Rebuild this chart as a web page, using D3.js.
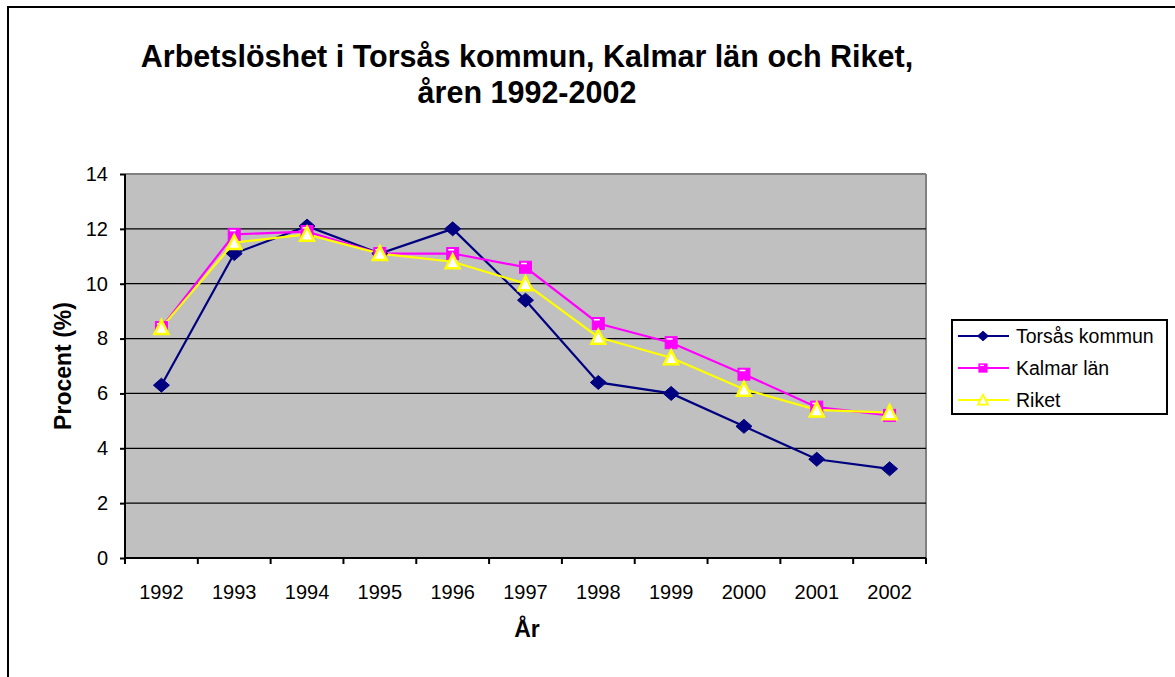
<!DOCTYPE html>
<html>
<head>
<meta charset="utf-8">
<script src="https://cdn.jsdelivr.net/npm/d3@7"></script>
<style>
  body { margin: 0; background: #fff; }
  svg { display: block; font-family: "Liberation Sans", Arial, sans-serif; }
</style>
</head>
<body>
<div id="chart"></div>
<script>
// Datos
const years = ['1992','1993','1994','1995','1996','1997','1998','1999','2000','2001','2002'];
const torsas = [6.3, 11.1, 12.1, 11.1, 12.0, 9.4, 6.4, 6.0, 4.8, 3.6, 3.25];
const kalmar = [8.4, 11.8, 11.9, 11.1, 11.1, 10.6, 8.55, 7.85, 6.7, 5.5, 5.2];
const riket = [8.4, 11.5, 11.8, 11.1, 10.8, 10.0, 8.05, 7.3, 6.15, 5.4, 5.3];
const yTicks = [0, 2, 4, 6, 8, 10, 12, 14];
const seriesNames = ['Torsås kommun', 'Kalmar län', 'Riket'];

const FONT = '"Liberation Sans", Arial, sans-serif';
const W = 1175, H = 677;
const margin = {top: 174, left: 125, right: 249, bottom: 119};
const width = W - margin.left - margin.right,
      height = H - margin.top - margin.bottom;

let svg = d3.select('#chart').append('svg')
    .attr('width', W).attr('height', H);

// borde exterior
svg.append('rect')
    .attr('x', 8).attr('y', 7)
    .attr('width', W + 10).attr('height', H + 10)
    .attr('fill', 'none').attr('stroke', '#000').attr('stroke-width', 2);

// título
svg.append('text').attr('x', 527).attr('y', 67).attr('text-anchor', 'middle')
    .attr('font-size', 30.5).attr('font-weight', 'bold')
    .text('Arbetslöshet i Torsås kommun, Kalmar län och Riket,');
svg.append('text').attr('x', 527).attr('y', 103).attr('text-anchor', 'middle')
    .attr('font-size', 30.5).attr('font-weight', 'bold')
    .text('åren 1992-2002');

let g = svg.append('g').attr('transform', 'translate(' + margin.left + ',' + margin.top + ')');

let x = d3.scaleBand().domain(years).range([0, width]);
let y = d3.scaleLinear().domain([0, 14]).range([height, 0]);

// fondo del gráfico
g.append('rect').attr('width', width).attr('height', height).attr('fill', '#c0c0c0');
g.append('line').attr('x1', 0).attr('x2', width).attr('y1', 0).attr('y2', 0)
    .attr('stroke', '#808080').attr('stroke-width', 2);
g.append('line').attr('x1', width).attr('x2', width).attr('y1', 0).attr('y2', height)
    .attr('stroke', '#808080').attr('stroke-width', 2);

// líneas de rejilla
g.selectAll('.grid').data(yTicks.filter(d => d > 0 && d < 14)).enter()
    .append('line')
    .attr('x1', 0).attr('x2', width)
    .attr('y1', d => y(d)).attr('y2', d => y(d))
    .attr('stroke', '#000').attr('stroke-width', 1.3);

// eje Y
let yAxis = g.append('g').call(d3.axisLeft(y).tickValues(yTicks).tickSize(5).tickPadding(12).tickFormat(d3.format('d')));
yAxis.select('.domain').attr('stroke-width', 2).attr('d', 'M0,0V' + height);
yAxis.selectAll('.tick line').attr('stroke-width', 2);
yAxis.selectAll('text').attr('font-size', 20).attr('fill', '#000').attr('font-family', FONT);

// eje X
let xAxis = g.append('g').attr('transform', 'translate(0,' + height + ')')
    .call(d3.axisBottom(x).tickSize(0).tickPadding(27));
xAxis.select('.domain').attr('stroke-width', 2).attr('d', 'M0,0H' + width);
xAxis.selectAll('text').attr('font-size', 20).attr('fill', '#000').attr('font-family', FONT);
g.append('g').selectAll('line').data(d3.range(years.length + 1)).enter()
    .append('line')
    .attr('x1', i => i * x.step()).attr('x2', i => i * x.step())
    .attr('y1', height).attr('y2', height + 6)
    .attr('stroke', '#000').attr('stroke-width', 2);

// títulos de ejes
svg.append('text').attr('x', 527).attr('y', 637).attr('text-anchor', 'middle')
    .attr('font-size', 23).attr('font-weight', 'bold').text('År');
svg.append('text').attr('transform', 'translate(71,' + (margin.top + height / 2) + ') rotate(-90)')
    .attr('text-anchor', 'middle')
    .attr('font-size', 23).attr('font-weight', 'bold').text('Procent (%)');

// series
const cx = (d, i) => x(years[i]) + x.bandwidth() / 2;
let line = d3.line().x(cx).y(d => y(d));

function drawDiamond(sel, col) {
    sel.append('path').attr('d', 'M0,-7L8,0L0,7L-8,0Z')
        .attr('fill', col).attr('stroke', col);
}
function drawSquare(sel, col) {
    sel.append('rect').attr('x', -6).attr('y', -6).attr('width', 12).attr('height', 12)
        .attr('fill', col).attr('stroke', col).attr('stroke-width', 1);
    sel.append('rect').attr('x', -4.5).attr('y', -4.5).attr('width', 6).attr('height', 1.5)
        .attr('fill', '#fff');
}
function drawTriangle(sel, col) {
    sel.append('path').attr('d', 'M0,-7.5L7,6.5L-7,6.5Z')
        .attr('fill', '#fff').attr('stroke', col).attr('stroke-width', 2.5);
}

const series = [
    {values: torsas, color: '#000080', marker: drawDiamond},
    {values: kalmar, color: '#ff00ff', marker: drawSquare},
    {values: riket, color: '#ffff00', marker: drawTriangle}
];

series.forEach(function(s) {
    g.append('path').datum(s.values)
        .attr('d', line)
        .attr('fill', 'none').attr('stroke', s.color).attr('stroke-width', 2.2);
});
series.forEach(function(s) {
    s.values.forEach(function(v, i) {
        let m = g.append('g').attr('transform', 'translate(' + cx(v, i) + ',' + y(v) + ')');
        s.marker(m, s.color);
    });
});

// leyenda
let legend = svg.append('g').attr('transform', 'translate(952,320)');
legend.append('rect').attr('width', 215).attr('height', 94)
    .attr('fill', '#fff').attr('stroke', '#000').attr('stroke-width', 2);
series.forEach(function(s, i) {
    let row = legend.append('g').attr('transform', 'translate(0,' + (16 + i * 32) + ')');
    row.append('line').attr('x1', 6).attr('x2', 57).attr('stroke', s.color).attr('stroke-width', 2);
    let m = row.append('g').attr('transform', 'translate(31,0) scale(0.7)');
    s.marker(m, s.color);
    row.append('text').attr('x', 64).attr('y', 7).attr('font-size', 19.5).text(seriesNames[i]);
});
</script>
</body>
</html>
